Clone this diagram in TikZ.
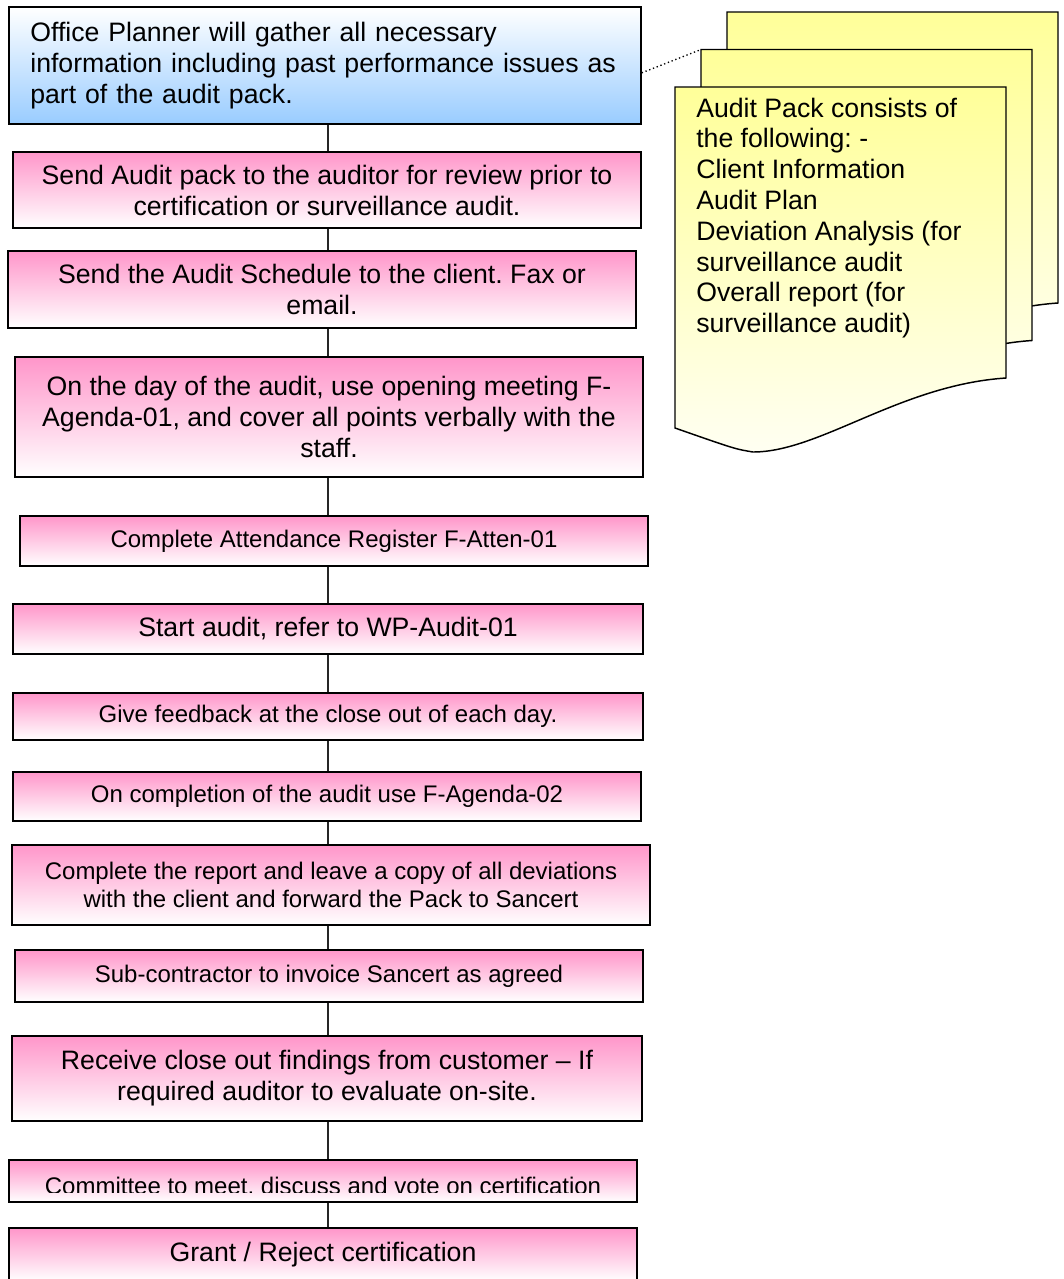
\documentclass[tikz,border=0pt]{standalone}
\usepackage{fontspec}
\setmainfont{Liberation Sans}
\usepackage{tikz}
\usetikzlibrary{positioning,calc}
\frenchspacing

\definecolor{pinktop}{RGB}{255,150,202}
\definecolor{bluebot}{RGB}{153,204,255}
\definecolor{packyellow}{RGB}{255,255,153}
\definecolor{packlight}{RGB}{255,255,242}

\begin{document}
\begin{tikzpicture}[x=0.75pt, y=-0.75pt,
    stepbox/.style={draw=black, line width=1.1pt, top color=pinktop, bottom color=white, inner sep=0pt, align=center},
    big/.style={font=\fontsize{20}{23.25}\selectfont},
    small/.style={font=\fontsize{18}{21}\selectfont},
    wh/.style 2 args={minimum width=#1*0.75pt, minimum height=#2*0.75pt},
    link/.style={line width=1.1pt, draw=black!85},
    sheet/.style={draw=black, line width=1.1pt, top color=packyellow, bottom color=packlight}]
    \useasboundingbox (0,0) rectangle (1064,1279);

    % audit pack (three sheets)
    \foreach \dx/\dy in {52/-75, 26/-37.5, 0/0}
        \draw[sheet, shift={(\dx,\dy)}] (675,87) -- (1006,87) -- (1006,378)
            .. controls (900,385) and (820,452) .. (753,452)
            .. controls (735,449) .. (675,428) -- cycle;
    \coordinate (pack) at (701,49.5);
    \node[anchor=north west, inner sep=0pt, align=left, font=\fontsize{20}{23.1}\selectfont] (note) at (696,97.5)
        {Audit Pack consists of\\the following: -\\Client Information\\Audit Plan\\Deviation Analysis (for\\surveillance audit\\Overall report (for\\surveillance audit)};

    % steps
    \coordinate (spine) at (328,0);
    \node[stepbox, top color=white, bottom color=bluebot, wh={632}{117}, big, align=left, text width=442pt] (b1) at (325,65.5)
        {Office Planner will gather all necessary\\information including past performance issues as\\part of the audit pack.};
    \node[stepbox, wh={628}{76}, big] (b2) at (327,190)
        {Send Audit pack to the auditor for review prior to\\certification or surveillance audit.};
    \node[stepbox, wh={628}{77}, big] (b3) at (322,289.5)
        {Send the Audit Schedule to the client. Fax or\\email.};
    \node[stepbox, wh={628}{120}, big] (b4) at (329,417)
        {On the day of the audit, use opening meeting F-\\Agenda-01, and cover all points verbally with the\\staff.};
    \node[stepbox, wh={628}{50}, small] (b5) at (334,541) {Complete Attendance Register F-Atten-01};
    \node[stepbox, wh={630}{50}, big] (b6) at (328,629) {Start audit, refer to WP-Audit-01};
    \node[stepbox, wh={630}{47}, small] (b7) at (328,716.5) {Give feedback at the close out of each day.};
    \node[stepbox, wh={628}{49}, small] (b8) at (327,796.5) {On completion of the audit use F-Agenda-02};
    \node[stepbox, wh={638}{80}, small] (b9) at (331,885)
        {Complete the report and leave a copy of all deviations\\with the client and forward the Pack to Sancert};
    \node[stepbox, wh={628}{52}, small] (b10) at (329,976) {Sub-contractor to invoice Sancert as agreed};
    \node[stepbox, wh={630}{85}, big] (b11) at (327,1078.5)
        {Receive close out findings from customer \textendash{} If\\required auditor to evaluate on-site.};
    \node[stepbox, wh={628}{42}] (b12) at (323,1181) {};
    \begin{scope}
        \clip (b12.north west) rectangle ([yshift=7.5pt]b12.south east);
        \node[small, anchor=base, inner sep=0pt] (b12t) at (323,1194) {Committee to meet, discuss and vote on certification};
    \end{scope}
    \node[stepbox, wh={628}{53}, big] (b13) at (323,1254.5) {Grant / Reject certification};

    % connectors
    \foreach \a/\b in {b1/b2,b2/b3,b3/b4,b4/b5,b5/b6,b6/b7,b7/b8,b8/b9,b9/b10,b10/b11,b11/b12,b12/b13}
        \draw[link] (\a.south -| spine) -- (\b.north -| spine);
    \draw[dotted, line width=1pt] ([yshift=-5.5pt]b1.east) -- (pack);
\end{tikzpicture}
\end{document}
